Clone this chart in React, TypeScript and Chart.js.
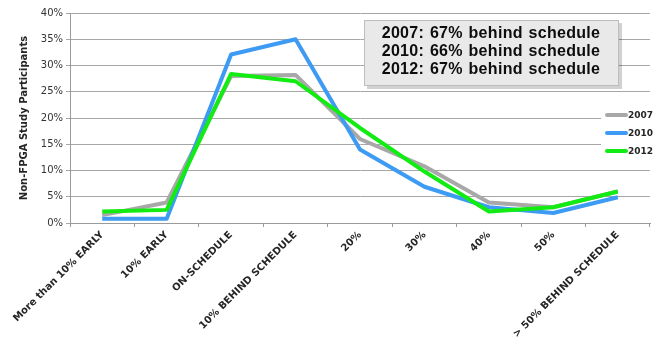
import React, { useEffect, useRef } from "react";
import { Chart, registerables } from "chart.js";

Chart.register(...registerables);

const categories = [
  "More than 10% EARLY",
  "10% EARLY",
  "ON-SCHEDULE",
  "10% BEHIND SCHEDULE",
  "20%",
  "30%",
  "40%",
  "50%",
  "> 50% BEHIND SCHEDULE",
];
const seriesNames = ["2007", "2010", "2012"];
const values2007 = [1.5, 3.9, 28.0, 28.2, 16.0, 10.8, 3.9, 3.0, 6.0];
const values2010 = [0.8, 0.8, 32.1, 35.0, 14.0, 6.9, 3.0, 1.9, 4.9];
const values2012 = [2.2, 2.5, 28.4, 27.0, 18.1, 9.8, 2.2, 3.0, 6.0];
const annotationLines = [
  "2007: 67% behind schedule",
  "2010: 66% behind schedule",
  "2012: 67% behind schedule",
];
const yTitle = "Non-FPGA Study Participants";

const colors = ["#a8a8a8", "#3d9bf4", "#12ec12"];

const W = 665;
const H = 400;

const overlayPlugin = {
  id: "overlay",
  afterDraw(chart: any) {
    const ctx = chart.ctx;
    ctx.save();
    // legend
    ctx.fillStyle = "#ffffff";
    ctx.fillRect(601, 100, 60, 62);
    chart.data.datasets.forEach((ds: any, i: number) => {
      const y = 115 + i * 18;
      ctx.strokeStyle = ds.borderColor;
      ctx.lineWidth = 4;
      ctx.lineCap = "round";
      ctx.beginPath();
      ctx.moveTo(607, y);
      ctx.lineTo(626, y);
      ctx.stroke();
      ctx.fillStyle = "#262626";
      ctx.font = "bold 9px 'DejaVu Sans'";
      ctx.textAlign = "left";
      ctx.textBaseline = "middle";
      ctx.fillText(ds.label, 628, y + 0.5);
    });
    // annotation box
    const bx = 364, by = 20, bw = 255, bh = 66;
    ctx.fillStyle = "rgba(0,0,0,0.18)";
    ctx.fillRect(bx + 3, by + 3, bw, bh);
    ctx.fillStyle = "#e9e9e9";
    ctx.fillRect(bx, by, bw, bh);
    ctx.strokeStyle = "#bdbdbd";
    ctx.lineWidth = 1;
    ctx.strokeRect(bx + 0.5, by + 0.5, bw - 1, bh - 1);
    ctx.fillStyle = "#0d0d0d";
    ctx.font = "bold 16px 'Liberation Sans'";
    (ctx as any).letterSpacing = "0.3px";
    (ctx as any).wordSpacing = "1px";
    ctx.textAlign = "center";
    ctx.textBaseline = "middle";
    annotationLines.forEach((t, i) => {
      ctx.fillText(t, 491, 34 + i * 18);
    });
    ctx.restore();
  },
};

export default function App() {
  const ref = useRef<HTMLCanvasElement | null>(null);
  useEffect(() => {
    if (!ref.current) return;
    const data = [values2007, values2010, values2012];
    const chart = new Chart(ref.current, {
      type: "line",
      data: {
        labels: categories,
        datasets: seriesNames.map((n, i) => ({
          label: n,
          data: data[i],
          borderColor: colors[i],
          backgroundColor: colors[i],
          borderWidth: 4,
          pointRadius: 0,
          tension: 0,
          borderJoinStyle: "round" as const,
          fill: false,
          order: 2 - i,
        })),
      },
      options: {
        responsive: false,
        animation: false,
        layout: { padding: { left: 0, top: 13, right: 15, bottom: 0 } },
        plugins: { legend: { display: false }, tooltip: { enabled: false } },
        scales: {
          x: {
            offset: true,
            grid: {
              offset: true,
              drawOnChartArea: false,
              drawTicks: true,
              tickLength: 4,
              color: "#9a9a9a",
            },
            border: { color: "#9a9a9a" },
            ticks: {
              autoSkip: false,
              maxRotation: 45,
              minRotation: 45,
              padding: 2,
              color: "#262626",
              font: { family: "'DejaVu Sans'", size: 10, weight: "bold" },
            },
            afterFit(scale: any) {
              scale.height = H - 223;
            },
          },
          y: {
            min: 0,
            max: 40,
            ticks: {
              stepSize: 5,
              padding: 3,
              color: "#333333",
              font: { family: "'DejaVu Sans'", size: 10 },
              callback: (v: any) => v + "%",
            },
            grid: { color: "#a6a6a6", tickLength: 4 },
            border: { color: "#9a9a9a" },
            title: {
              display: true,
              text: yTitle,
              color: "#262626",
              font: { family: "'DejaVu Sans'", size: 10, weight: "bold" },
              padding: { top: 18, bottom: 0 },
            },
            afterFit(scale: any) {
              scale.width = 70;
            },
          },
        },
      },
      plugins: [overlayPlugin],
    });
    return () => chart.destroy();
  }, []);
  return (
    <div
      style={{
        position: "fixed",
        left: 0,
        top: 0,
        width: W,
        height: 343,
        overflow: "hidden",
        background: "#fff",
      }}
    >
      <canvas ref={ref} width={W} height={H} style={{ width: W, height: H, display: "block" }} />
    </div>
  );
}
